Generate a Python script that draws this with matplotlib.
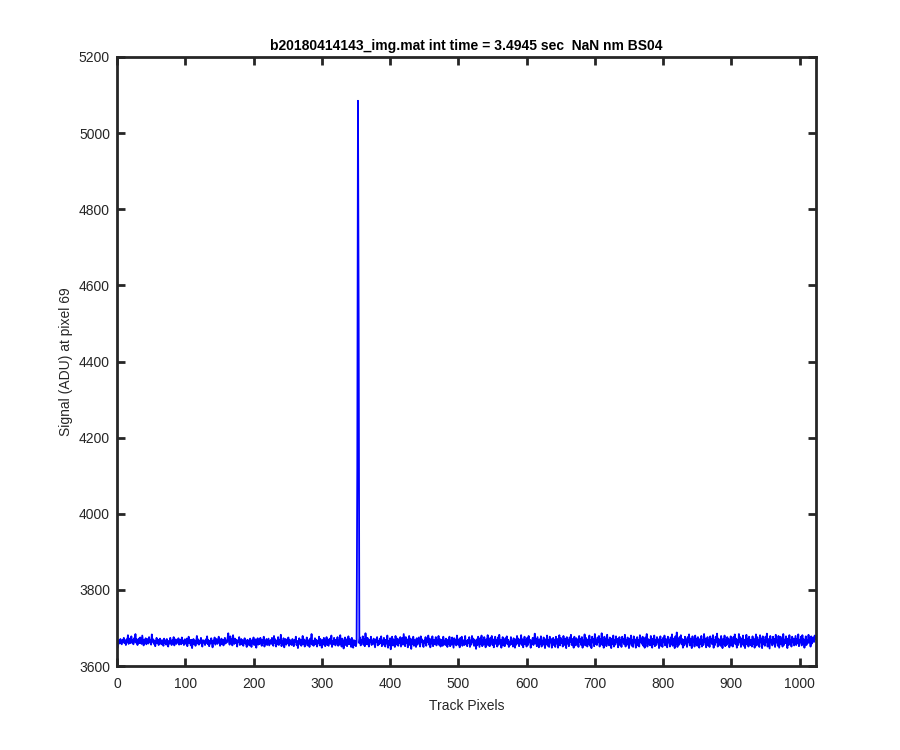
import numpy as np
import matplotlib
matplotlib.use('Agg')
import matplotlib.pyplot as plt

plt.rcParams['font.family'] = ['Liberation Sans', 'DejaVu Sans']

title = 'b20180414143_img.mat int time = 3.4945 sec  NaN nm BS04'
xlabel = 'Track Pixels'
ylabel = 'Signal (ADU) at pixel 69'
xticks = [0, 100, 200, 300, 400, 500, 600, 700, 800, 900, 1000]
yticks = [3600, 3800, 4000, 4200, 4400, 4600, 4800, 5000, 5200]

# signal along the track (ADU), pixels 1..1024
signal = [
    3649, 3662, 3668, 3659, 3671, 3664, 3657, 3669, 3662, 3674, 3660, 3667, 3655, 3670, 3663, 3681, 3658, 3672, 3665, 3660, 3678, 3662, 3669, 3657, 3673, 3664, 3684, 3661, 3670, 3655, 3667, 3672,
    3660, 3675, 3663, 3658, 3680, 3666, 3654, 3669, 3661, 3673, 3657, 3665, 3671, 3659, 3676, 3663, 3668, 3656, 3683, 3664, 3670, 3658, 3667, 3652, 3663, 3674, 3660, 3669, 3655, 3666, 3672, 3661,
    3657, 3668, 3664, 3653, 3672, 3660, 3667, 3656, 3671, 3663, 3651, 3666, 3659, 3674, 3662, 3655, 3668, 3661, 3676, 3654, 3665, 3670, 3658, 3667, 3662, 3673, 3656, 3664, 3669, 3657, 3675, 3660,
    3666, 3655, 3670, 3663, 3658, 3672, 3652, 3665, 3677, 3660, 3668, 3654, 3669, 3647, 3663, 3671, 3657, 3667, 3653, 3664, 3679, 3659, 3670, 3656, 3666, 3661, 3674, 3658, 3651, 3668, 3662, 3665,
    3655, 3670, 3661, 3678, 3657, 3668, 3652, 3665, 3659, 3673, 3663, 3649, 3667, 3660, 3675, 3656, 3664, 3671, 3658, 3662, 3677, 3666, 3653, 3661, 3672, 3657, 3669, 3654, 3663, 3674, 3659, 3667,
    3662, 3673, 3686, 3665, 3656, 3678, 3661, 3670, 3654, 3681, 3664, 3658, 3672, 3660, 3669, 3651, 3667, 3663, 3676, 3655, 3666, 3671, 3657, 3668, 3653, 3664, 3673, 3659, 3662, 3650, 3669, 3657,
    3667, 3654, 3672, 3661, 3650, 3668, 3659, 3675, 3655, 3664, 3670, 3648, 3662, 3673, 3656, 3666, 3658, 3674, 3663, 3653, 3669, 3660, 3677, 3651, 3665, 3657, 3671, 3655, 3663, 3672, 3654, 3661,
    3668, 3658, 3674, 3662, 3653, 3679, 3660, 3670, 3651, 3666, 3657, 3676, 3655, 3668, 3661, 3682, 3652, 3665, 3658, 3673, 3649, 3663, 3671, 3656, 3667, 3660, 3675, 3653, 3669, 3657, 3664, 3655,
    3671, 3660, 3652, 3668, 3663, 3677, 3655, 3666, 3647, 3661, 3673, 3658, 3669, 3653, 3664, 3679, 3657, 3670, 3651, 3667, 3660, 3675, 3654, 3668, 3662, 3650, 3672, 3659, 3684, 3656, 3666, 3653,
    3664, 3673, 3657, 3669, 3651, 3666, 3660, 3677, 3654, 3671, 3662, 3648, 3668, 3656, 3674, 3661, 3652, 3667, 3676, 3655, 3670, 3653, 3663, 3672, 3658, 3680, 3650, 3666, 3657, 3674, 3662, 3654,
    3669, 3659, 3676, 3653, 3667, 3656, 3681, 3663, 3651, 3672, 3660, 3646, 3666, 3675, 3655, 3670, 3652, 3664, 3678, 3657, 3671, 3662, 3650, 3674, 3659, 3648, 3668, 3655, 3666, 3652, 3663, 4120,
    5085, 4515, 3660, 3675, 3654, 3669, 3663, 3678, 3656, 3671, 3652, 3686, 3664, 3657, 3674, 3660, 3651, 3668, 3662, 3677, 3655, 3667, 3658, 3672, 3661, 3649, 3670, 3663, 3676, 3654, 3666, 3657,
    3672, 3660, 3678, 3652, 3667, 3656, 3674, 3663, 3651, 3669, 3659, 3680, 3648, 3666, 3655, 3673, 3644, 3664, 3677, 3654, 3670, 3661, 3650, 3679, 3663, 3656, 3672, 3653, 3668, 3660, 3676, 3651,
    3663, 3674, 3656, 3684, 3667, 3652, 3676, 3660, 3670, 3649, 3664, 3679, 3655, 3672, 3645, 3668, 3658, 3677, 3653, 3669, 3662, 3650, 3673, 3656, 3666, 3675, 3659, 3651, 3678, 3663, 3670, 3655,
    3650, 3667, 3661, 3676, 3653, 3670, 3663, 3680, 3656, 3672, 3649, 3666, 3659, 3678, 3652, 3669, 3657, 3664, 3676, 3654, 3668, 3660, 3679, 3655, 3671, 3651, 3663, 3669, 3653, 3677, 3658, 3667,
    3655, 3672, 3663, 3650, 3669, 3658, 3677, 3652, 3667, 3656, 3675, 3662, 3648, 3673, 3659, 3669, 3654, 3680, 3663, 3656, 3670, 3649, 3674, 3660, 3677, 3653, 3668, 3662, 3655, 3679, 3658, 3666,
    3652, 3669, 3661, 3676, 3650, 3667, 3656, 3679, 3662, 3672, 3653, 3668, 3659, 3645, 3670, 3655, 3677, 3663, 3650, 3673, 3658, 3680, 3652, 3667, 3656, 3676, 3662, 3649, 3670, 3659, 3681, 3654,
    3667, 3652, 3674, 3662, 3679, 3655, 3670, 3649, 3663, 3677, 3658, 3668, 3651, 3675, 3656, 3682, 3661, 3669, 3648, 3660, 3676, 3654, 3667, 3652, 3673, 3661, 3678, 3657, 3669, 3650, 3664, 3655,
    3676, 3658, 3667, 3651, 3673, 3662, 3648, 3670, 3656, 3679, 3661, 3672, 3652, 3668, 3659, 3681, 3655, 3670, 3649, 3663, 3677, 3657, 3668, 3651, 3674, 3655, 3679, 3662, 3669, 3648, 3667, 3658,
    3674, 3655, 3663, 3685, 3659, 3671, 3652, 3676, 3662, 3649, 3670, 3657, 3678, 3651, 3667, 3656, 3675, 3661, 3647, 3670, 3658, 3680, 3653, 3668, 3650, 3677, 3662, 3671, 3648, 3659, 3674, 3655,
    3668, 3650, 3677, 3659, 3671, 3648, 3663, 3681, 3654, 3674, 3660, 3668, 3651, 3679, 3662, 3655, 3672, 3647, 3676, 3659, 3669, 3652, 3675, 3663, 3682, 3655, 3671, 3658, 3648, 3677, 3662, 3654,
    3673, 3658, 3668, 3650, 3679, 3663, 3671, 3655, 3676, 3648, 3667, 3659, 3683, 3654, 3674, 3662, 3651, 3670, 3657, 3680, 3653, 3668, 3647, 3677, 3662, 3671, 3652, 3684, 3658, 3669, 3655, 3675,
    3662, 3679, 3651, 3671, 3658, 3686, 3655, 3668, 3648, 3677, 3661, 3670, 3652, 3682, 3659, 3669, 3654, 3675, 3663, 3647, 3672, 3658, 3680, 3651, 3668, 3656, 3678, 3662, 3671, 3649, 3660, 3676,
    3655, 3668, 3650, 3677, 3662, 3671, 3657, 3682, 3651, 3669, 3656, 3675, 3663, 3647, 3672, 3659, 3680, 3653, 3668, 3650, 3678, 3662, 3670, 3648, 3659, 3676, 3654, 3668, 3651, 3681, 3662, 3672,
    3658, 3677, 3653, 3669, 3648, 3675, 3662, 3684, 3651, 3671, 3659, 3668, 3654, 3679, 3663, 3648, 3672, 3657, 3680, 3652, 3669, 3655, 3676, 3662, 3670, 3647, 3659, 3678, 3653, 3668, 3650, 3674,
    3662, 3680, 3654, 3671, 3658, 3649, 3677, 3662, 3669, 3651, 3675, 3657, 3683, 3653, 3672, 3663, 3647, 3678, 3659, 3688, 3650, 3670, 3655, 3676, 3662, 3681, 3657, 3671, 3648, 3668, 3654, 3677,
    3659, 3670, 3650, 3676, 3662, 3683, 3654, 3672, 3658, 3647, 3678, 3663, 3669, 3651, 3680, 3657, 3672, 3653, 3676, 3662, 3648, 3671, 3658, 3679, 3651, 3669, 3655, 3684, 3662, 3672, 3649, 3660,
    3676, 3654, 3669, 3650, 3678, 3662, 3671, 3657, 3681, 3648, 3668, 3655, 3677, 3662, 3685, 3651, 3672, 3658, 3669, 3653, 3679, 3662, 3647, 3671, 3657, 3680, 3652, 3668, 3655, 3676, 3662, 3671,
    3649, 3658, 3678, 3654, 3669, 3651, 3676, 3662, 3683, 3657, 3672, 3648, 3668, 3655, 3684, 3662, 3676, 3650, 3671, 3658, 3680, 3653, 3669, 3647, 3663, 3682, 3657, 3672, 3651, 3677, 3662, 3655,
    3669, 3651, 3678, 3658, 3671, 3648, 3664, 3683, 3654, 3676, 3659, 3669, 3650, 3681, 3662, 3672, 3647, 3678, 3657, 3669, 3653, 3677, 3662, 3685, 3651, 3671, 3658, 3646, 3679, 3662, 3669, 3654,
    3677, 3659, 3671, 3650, 3682, 3662, 3668, 3653, 3679, 3648, 3663, 3677, 3657, 3671, 3651, 3684, 3655, 3669, 3660, 3678, 3662, 3647, 3672, 3655, 3681, 3659, 3669, 3651, 3677, 3662, 3672, 3654,
    3667, 3679, 3655, 3671, 3660, 3683, 3652, 3668, 3662, 3677, 3654, 3681, 3659, 3670, 3648, 3663, 3678, 3655, 3669, 3660, 3682, 3662, 3672, 3651, 3678, 3659, 3668, 3675, 3663, 3680, 3670, 3674,
]
pixels = np.arange(1, len(signal) + 1)

fig = plt.figure(figsize=(9, 7.5), dpi=100)
ax = fig.add_axes([0.13, 0.112, 0.7767, 0.812])
ax.plot(pixels, signal, color=(0, 0, 1), lw=1.3)

ax.set_xlim(0, 1024)
ax.set_ylim(3600, 5200)
ax.set_xticks(xticks)
ax.set_yticks(yticks)

dark = '#262626'
for s in ax.spines.values():
    s.set_linewidth(2)
    s.set_color(dark)
ax.tick_params(direction='in', length=6, width=2, top=True, right=True,
               colors=dark, labelsize=10, pad=5)
ax.tick_params(axis='x', pad=8)
ax.set_xlabel(xlabel, fontsize=10, color=dark, labelpad=6)
ax.set_ylabel(ylabel, fontsize=10, color=dark)
ax.set_title(title, fontsize=10, fontweight='bold', color='black', pad=5)

fig.savefig('out.png', dpi=100)
